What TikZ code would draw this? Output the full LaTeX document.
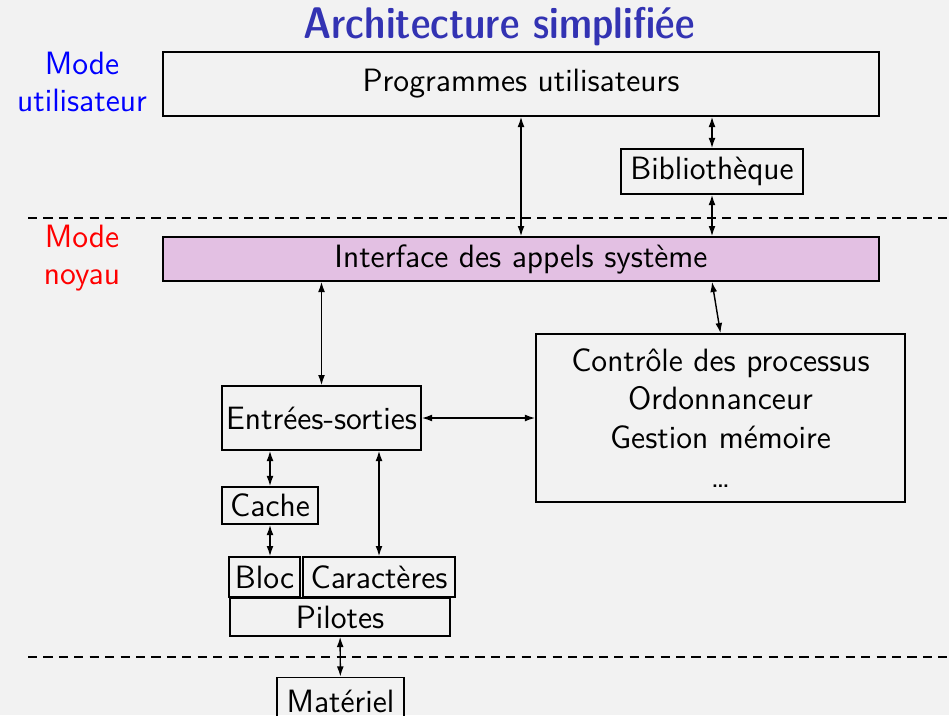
\documentclass[tikz,border=0pt]{standalone}
\usepackage{fontspec}
\renewcommand{\familydefault}{\sfdefault}
\usepackage{tikz}
\usetikzlibrary{arrows.meta}
\definecolor{slidebg}{RGB}{242,242,242}
\definecolor{titleblue}{RGB}{51,51,179}
\definecolor{syscall}{RGB}{227,192,227}
\tikzset{
  layer/.style={draw=black,line width=0.5pt,inner sep=1pt,align=center,font=\fontsize{11.3}{13.6}\selectfont},
  link/.style={{Latex[length=3.6pt,width=2.4pt]}-{Latex[length=3.6pt,width=2.4pt]},line width=0.5pt},
  sep/.style={dash pattern=on 3.2pt off 2.2pt,line width=0.5pt},
  modetxt/.style={align=center,font=\fontsize{11.3}{13}\selectfont}
}

\begin{document}
\begin{tikzpicture}[x=0.35pt,y=-0.35pt]
\useasboundingbox (0,0) rectangle (949,715);
\fill[slidebg] (0,0) rectangle (949,715);

\node[font=\fontsize{15.5}{18}\fontseries{sbc}\selectfont,text=titleblue] (title) at (499,27) {Architecture simplifiée};
\node[modetxt,text=blue] (umode) at (82,82) {Mode\\utilisateur};
\node[modetxt,text=red] (kmode) at (82,258) {Mode\\noyau};

\node[layer,minimum width=250.6pt,minimum height=22.4pt] (prog) at (521,84) {Programmes utilisateurs};
\node[layer,minimum width=63.7pt,minimum height=15.8pt] (bib) at (712,171.5) {Bibliothèque};
\node[layer,fill=syscall,minimum width=250.6pt,minimum height=15.4pt] (inter) at (521,259) {Interface des appels système};
\node[layer,minimum width=129.2pt,minimum height=58.8pt] (ctrl) at (720.5,418) {Contrôle des processus\\Ordonnanceur\\Gestion mémoire\\\dots};
\node[layer,minimum width=69.7pt,minimum height=22.4pt] (es) at (321.5,418) {Entrées-sorties};
\node[layer,minimum width=33.6pt,minimum height=13pt] (cache) at (270,505.5) {Cache};
\node[layer,minimum width=24.9pt,minimum height=14pt] (bloc) at (264.5,577) {Bloc};
\node[layer,minimum width=53.2pt,minimum height=14pt] (car) at (379,577) {Caractères};
\node[layer,minimum width=77pt,minimum height=13.3pt] (pil) at (340,617) {Pilotes};
\node[layer,minimum width=44.5pt,minimum height=16.5pt] (mat) at (340.5,701) {Matériel};

\draw[sep] (28,218) -- (949,218);
\draw[sep] (28,657) -- (949,657);

\draw[link] (prog) -- (inter);
\draw[link] (prog.south -| bib) -- (bib);
\draw[link] (bib) -- (bib |- inter.north);
\draw[link] (inter.south -| es) -- (es);
\draw[link] (inter.south -| bib) -- (ctrl.north);
\draw[link] (es) -- (ctrl);
\draw[link] (es.south -| cache) -- (cache);
\draw[link] (cache.south) -- (cache.south |- bloc.north);
\draw[link] (es.south -| car) -- (car);
\draw[link] (pil) -- (mat);
\end{tikzpicture}
\end{document}
